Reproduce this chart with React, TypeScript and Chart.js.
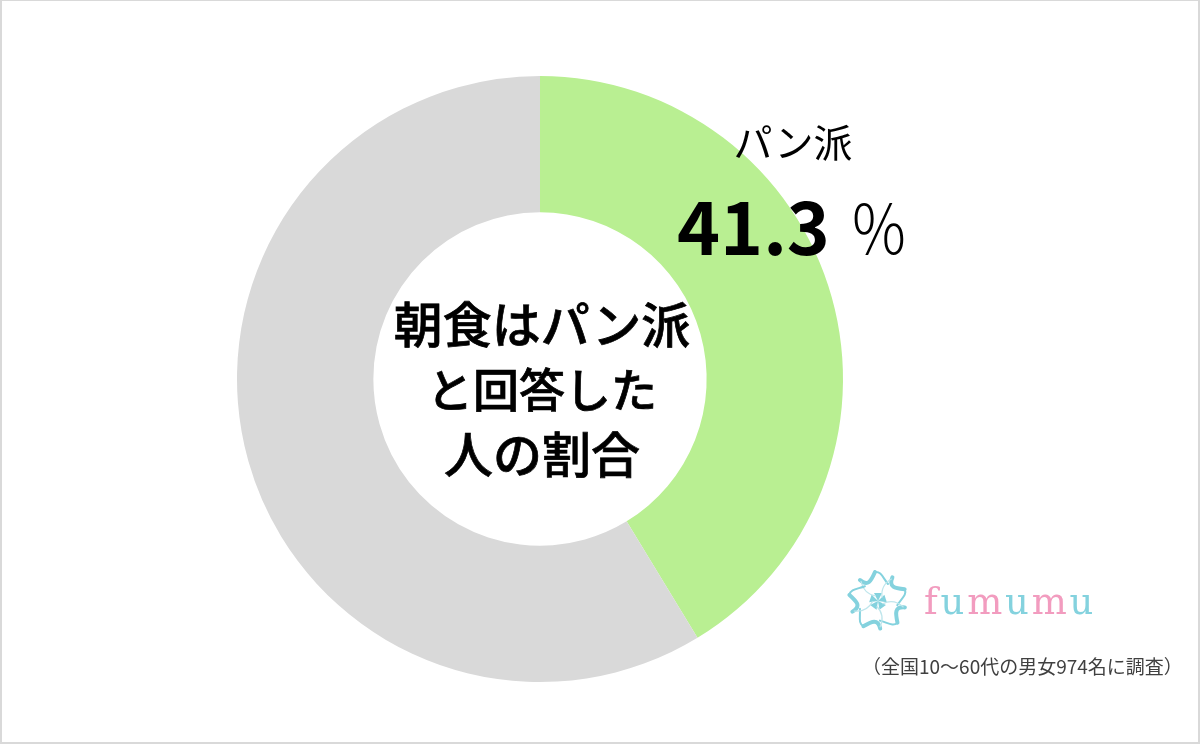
import { useEffect, useRef } from "react";
import { Chart, registerables } from "chart.js";

Chart.register(...registerables);

const categories = ["パン派", "その他"];
const shares = [41.3, 58.7];
const sliceColors = ["#b9ef92", "#d9d9d9"];
const centerLines = ["朝食はパン派", "と回答した", "人の割合"];
const centerSizes = [49, 46, 49];
const logoLetters = ["f", "u", "m", "u", "m", "u"];
const logoColors = ["#f29cbf", "#84d2de", "#f29cbf", "#84d2de", "#f29cbf", "#84d2de"];
const petalAngles = [0, 72, 144, 216, 288];

const JP = '"Noto Sans CJK JP", sans-serif';

function Label({ x, y, size, weight, children, anchor = "left", color = "#000", extra }: any) {
  return (
    <div
      style={{
        position: "absolute",
        left: anchor === "center" ? x - 300 : x,
        width: anchor === "center" ? 600 : undefined,
        top: y - size,
        height: size * 2,
        lineHeight: `${size * 2}px`,
        fontFamily: JP,
        fontSize: size,
        fontWeight: weight,
        color,
        textAlign: anchor === "center" ? "center" : "left",
        whiteSpace: "nowrap",
        ...extra,
      }}
    >
      {children}
    </div>
  );
}

export default function App() {
  const chartRef = useRef<HTMLCanvasElement>(null);

  useEffect(() => {
    document.body.style.margin = "0";
    if (!chartRef.current) return;
    const chart = new Chart(chartRef.current, {
      type: "doughnut",
      data: {
        labels: categories,
        datasets: [{ data: shares, backgroundColor: sliceColors, borderWidth: 0 }],
      },
      options: {
        responsive: false,
        animation: false,
        cutout: "55%",
        layout: { padding: { left: 237, right: 357, top: 76, bottom: 62 } },
        plugins: { legend: { display: false }, tooltip: { enabled: false } },
      },
    });
    return () => chart.destroy();
  }, []);

  return (
    <div style={{ position: "relative", width: 1200, height: 744, background: "#fff", overflow: "hidden" }}>
      <canvas ref={chartRef} width={1200} height={744} style={{ position: "absolute", left: 0, top: 0 }} />
      <div
        style={{
          position: "absolute",
          inset: 0,
          border: "solid #d9d9d9",
          borderWidth: "1px 2px 2px 2px",
          boxSizing: "border-box",
        }}
      />

      <Label x={793} y={140} size={39} anchor="center">パン派</Label>
      <Label x={677} y={223} size={73} weight={700}>41.3</Label>
      <Label
        x={849}
        y={226}
        size={68}
        weight={300}
        extra={{ transform: "scaleX(0.88)", transformOrigin: "left center" }}
      >
        ％
      </Label>

      {centerLines.map((line, i) => (
        <Label
          key={line}
          x={542}
          y={322 + i * 65}
          size={centerSizes[i]}
          weight={500}
          anchor="center"
          extra={{ WebkitTextStroke: "0.7px #000" }}
        >
          {line}
        </Label>
      ))}

      <svg style={{ position: "absolute", left: 847, top: 570 }} width={62} height={62} viewBox="-31 -31 62 62">
        {petalAngles.map((a) => (
          <g key={a} transform={`rotate(${a})`}>
            <path d="M-18 -21 C-10 -14 -7 -20 -3 -29" fill="none" stroke="#84d2de" strokeWidth={4} strokeLinecap="round" />
            <path d="M-3 -29 C3 -30 5 -23 10 -17" fill="none" stroke="#84d2de" strokeWidth={2} strokeLinecap="round" />
            <path d="M0 0 L-4 -8 L4 -8 Z" fill="#84d2de" />
            <path d="M-17 -20 C-15 -10 -8 -6 -2 -5" fill="none" stroke="#bfe6ec" strokeWidth={1.2} />
          </g>
        ))}
      </svg>
      <div style={{ position: "absolute", left: 924, top: 580, height: 44, lineHeight: "44px", fontFamily: '"DejaVu Serif", serif', fontSize: 37, letterSpacing: 2.8 }}>
        {logoLetters.map((ch, i) => (
          <span key={i} style={{ color: logoColors[i] }}>{ch}</span>
        ))}
      </div>

      <Label x={862} y={666} size={19} color="#404040">（全国10～60代の男女974名に調査）</Label>
    </div>
  );
}
